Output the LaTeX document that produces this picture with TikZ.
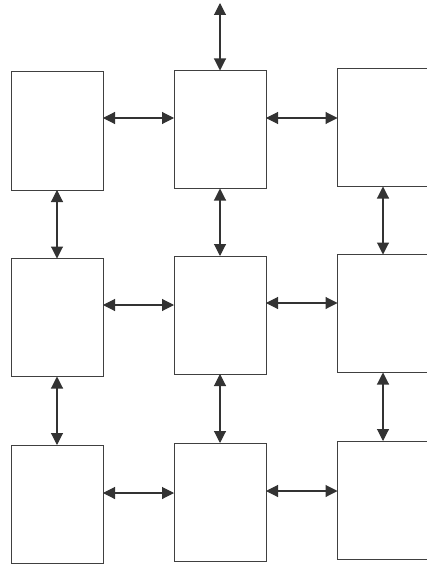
\documentclass[tikz,border=0pt]{standalone}
\usetikzlibrary{arrows.meta,calc}
\begin{document}
\begin{tikzpicture}[x=1pt,y=-1pt,
  cell/.style={draw=black!75,line width=1pt,minimum width=92pt,minimum height=118pt,inner sep=0pt,outer sep=0pt},
  link/.style={draw=black!80,line width=1.1pt,{Triangle[length=12pt,width=12pt]}-{Triangle[length=12pt,width=12pt]}}]
\useasboundingbox (0,0) rectangle (426,567);
\node[cell] (tl) at (57,131) {};
\node[cell] (tm) at (220,129.5) {};
\node[cell] (tr) at (383.5,127.5) {};
\node[cell] (ml) at (57,317.5) {};
\node[cell] (mm) at (220,315) {};
\node[cell] (mr) at (383.5,313.5) {};
\node[cell] (bl) at (57,504) {};
\node[cell] (bm) at (220,502) {};
\node[cell] (br) at (383.5,500) {};
\coordinate (top) at (220,3);
% horizontal
\draw[link] (tl.east |- 0,118) -- (tm.west |- 0,118);
\draw[link] (tm.east |- 0,118) -- (tr.west |- 0,118);
\draw[link] (ml.east |- 0,305) -- (mm.west |- 0,305);
\draw[link] (mm.east |- 0,303) -- (mr.west |- 0,303);
\draw[link] (bl.east |- 0,493) -- (bm.west |- 0,493);
\draw[link] (bm.east |- 0,491) -- (br.west |- 0,491);
% vertical
\draw[link] (top) -- (tm.north);
\draw[link] (tl.south) -- (ml.north);
\draw[link] (tm.south) -- (mm.north);
\draw[link] (tr.south -| 383,0) -- (mr.north -| 383,0);
\draw[link] (ml.south) -- (bl.north);
\draw[link] (mm.south) -- (bm.north);
\draw[link] (mr.south -| 383,0) -- (br.north -| 383,0);
\end{tikzpicture}
\end{document}
